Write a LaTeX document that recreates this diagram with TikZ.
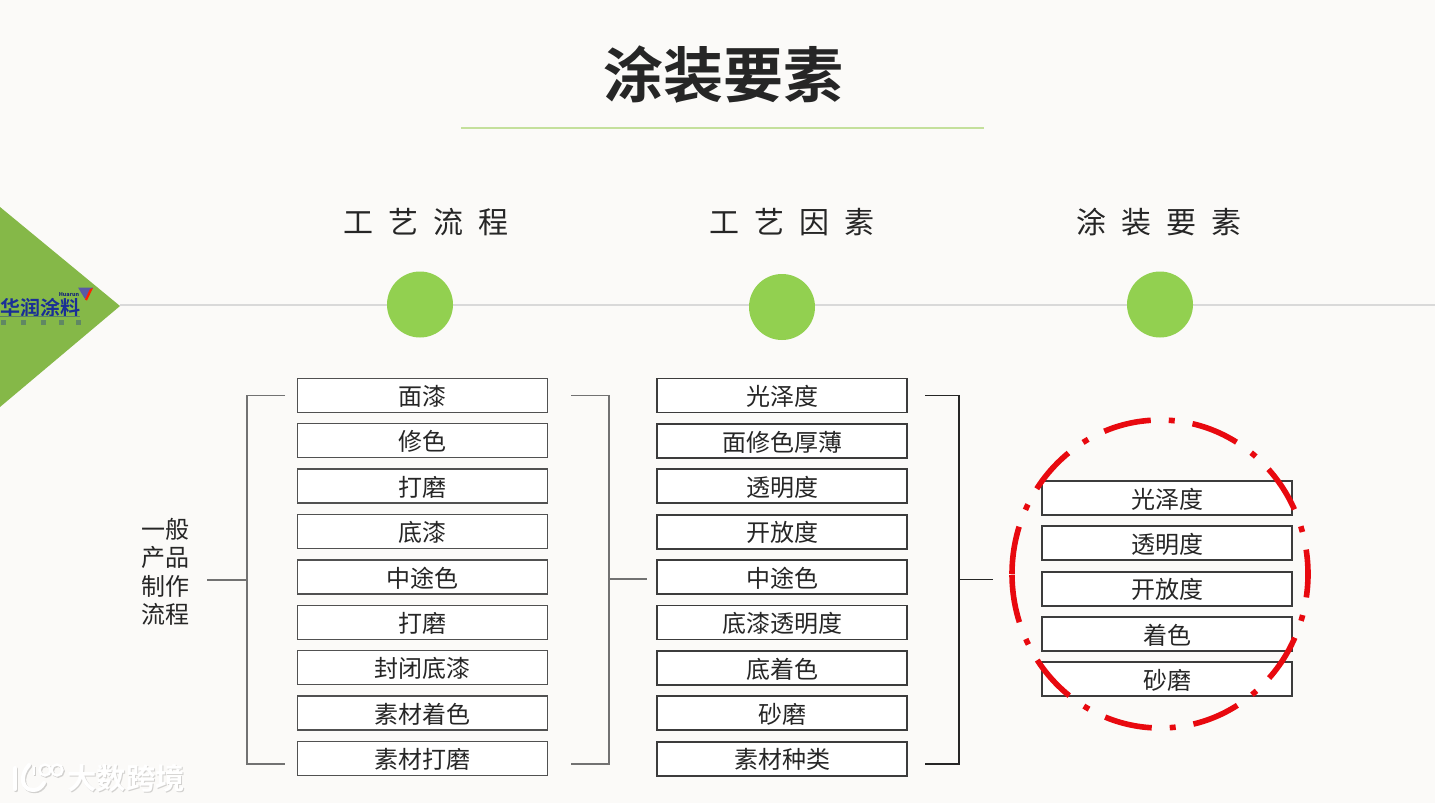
\documentclass[tikz,border=0pt]{standalone}
\usepackage{fontspec}
\setmainfont{Noto Sans CJK SC}
\newfontfamily\cjk{Noto Sans CJK SC}
\newfontfamily\cjkb{Noto Sans CJK SC Bold}
\newcommand\wsp{\spaceskip 11.25pt\relax}
\definecolor{bgc}{HTML}{FBFAF8}
\definecolor{grn}{HTML}{92D050}
\definecolor{tri}{HTML}{85B848}
\definecolor{rul}{HTML}{C4E09C}
\definecolor{axis}{HTML}{D9D9D9}
\definecolor{ink}{HTML}{262626}
\definecolor{blu}{HTML}{1A2F96}
\definecolor{dred}{HTML}{E8090F}
\definecolor{wmsh}{HTML}{D2D1CF}
\tikzset{
  x=0.75pt,y=-0.75pt,
  lbox/.style={draw=ink!80,line width=0.8pt,fill=white,minimum width=187.5pt,minimum height=25.5pt,inner sep=0pt,text=ink,text height=15pt,text depth=0pt,font=\cjk\fontsize{18}{20}\selectfont},
  mbox/.style={lbox,draw=ink!90,line width=1.4pt},
  head/.style={text=ink,inner sep=0pt,font=\cjk\fontsize{22.5}{26}\selectfont},
  dot/.style={circle,fill=grn,draw=none,minimum size=49.5pt,inner sep=0pt},
  brk/.style={draw=ink!65,line width=0.8pt},
  brkd/.style={draw=ink,line width=1.4pt},
  wmtext/.style={inner sep=0pt,font=\cjkb\fontsize{22}{24}\selectfont},
  wmline/.style={line width=3pt,line cap=round},
}
\newcommand\wmmark[1]{%
  \draw[wmline,#1] (15,768) -- (15,789);
  \draw[wmline,#1] (29,765) .. controls (19,776) and (22,790) .. (33,790) .. controls (38,790) and (41,788) .. (44,783);
  \draw[line width=1.8pt,#1] (34,766) -- (34,775);
  \draw[line width=1.8pt,#1] (45,770) circle (5.5);
  \draw[line width=1.8pt,#1] (57,770) circle (5.5);
}
\begin{document}
\begin{tikzpicture}
\fill[bgc] (0,0) rectangle (1435,803);
\useasboundingbox (0,0) rectangle (1435,803);
% title
\node[text=ink,inner sep=0pt,font=\cjkb\fontsize{45}{50}\selectfont] (title) at (723,75) {涂装要素};
\coordinate (ra) at (461,128); \coordinate (rb) at (984,128);
\draw[rul,line width=1.1pt] (ra) -- (rb);
% axis
\coordinate (axisR) at (1435,305);
\coordinate (tipn) at (120,305);
\draw[axis,line width=1.5pt] (tipn) -- (axisR);
\fill[tri] (0,207) -- (120,306) -- (0,407) -- cycle;
% logo
\node[text=blu,inner sep=0pt,anchor=west,font=\cjkb\fontsize{15}{16}\selectfont] (logo) at (0,307.5) {华润涂料};
\node[text=blu!80!black,inner sep=0pt,font=\bfseries\fontsize{4}{4}\selectfont] (logoe) at (69,295) {Huarun};
\fill[gray!70!blue] (78,287.5) -- (93,287.5) -- (85,299) -- cycle;
\fill[red!75!orange] (85,299.5) -- (90,289) -- (93,288) -- (87,300.5) -- cycle;
\draw[blu!40!tri,line width=0.4pt] (0,316.5) -- (80,316.5);
\foreach \lx in {3,23,43,61,78} \fill[blu!35!tri] (\lx-2.5,320) rectangle (\lx+2.5,325);
\node[dot] (c1) at (420,304.5) {};
\node[dot] (c2) at (782,307) {};
\node[dot] (c3) at (1160,304.5) {};
\node[head] (h1) at (425.5,222) {\wsp 工 艺 流 程};
\node[head] (h2) at (792,222) {\wsp 工 艺 因 素};
\node[head] (h3) at (1159,222) {\wsp 涂 装 要 素};
% left column
\foreach \n/\y/\t in {a1/395.5/面漆,a2/440.8/修色,a3/486/打磨,a4/531.8/底漆,a5/577/中途色,a6/622.3/打磨,a7/667.8/封闭底漆,a8/713/素材着色,a9/758.5/素材打磨}
  \node[lbox] (\n) at (422.3,\y) {\t};
\foreach \n/\y/\t in {b1/395.5/光泽度,b2/441/面修色厚薄,b3/486.3/透明度,b4/531.8/开放度,b5/577.3/中途色,b6/622.5/底漆透明度,b7/668/底着色,b8/713.3/砂磨,b9/758.7/素材种类}
  \node[mbox] (\n) at (782,\y) {\t};
\foreach \n/\y/\t in {d1/498/光泽度,d2/543.3/透明度,d3/588.7/开放度,d4/634/着色,d5/679.3/砂磨}
  \node[mbox] (\n) at (1167,\y) {\t};
\node[text=ink,inner sep=0pt,align=center,font=\cjk\fontsize{18}{21.3}\selectfont] (txt) at (165,572) {一般\\产品\\制作\\流程};
% brackets
\coordinate (p1a) at (285,395.5); \coordinate (p1b) at (285,764); \coordinate (p1m) at (247,580); \coordinate (p1c) at (207,580);
\draw[brk] (p1a) -- (247,395.5) -- (247,764) -- (p1b);
\draw[brk] (p1c) -- (p1m);
\coordinate (p2a) at (571,395.5); \coordinate (p2b) at (571,764); \coordinate (p2m) at (609,579); \coordinate (p2c) at (647,579);
\draw[brk] (p2a) -- (609,395.5) -- (609,764) -- (p2b);
\draw[brk] (p2m) -- (p2c);
\coordinate (p3a) at (925,395.5); \coordinate (p3b) at (925,764); \coordinate (p3m) at (959,579.5); \coordinate (p3c) at (993,579.5);
\draw[brkd] (p3a) -- (959,395.5) -- (959,764) -- (p3b);
\draw[brkd] (p3m) -- (p3c);
% red ellipse: path starts at its west point, so two dashes meet there
\draw[dred,line width=4.2pt,dash pattern=on 36pt off 13.5pt on 4.5pt off 13.5pt]
  (1012,574) arc[start angle=180,end angle=540,x radius=148,y radius=154];
% watermark
\begin{scope}[shift={(1.2,1.2)}]
  \node[wmtext,text=wmsh] (wms) at (126,778) {大数跨境};
  \wmmark{wmsh}
\end{scope}
\node[wmtext,text=white] (wm) at (126,778) {大数跨境};
\wmmark{white}
\end{tikzpicture}
\end{document}
